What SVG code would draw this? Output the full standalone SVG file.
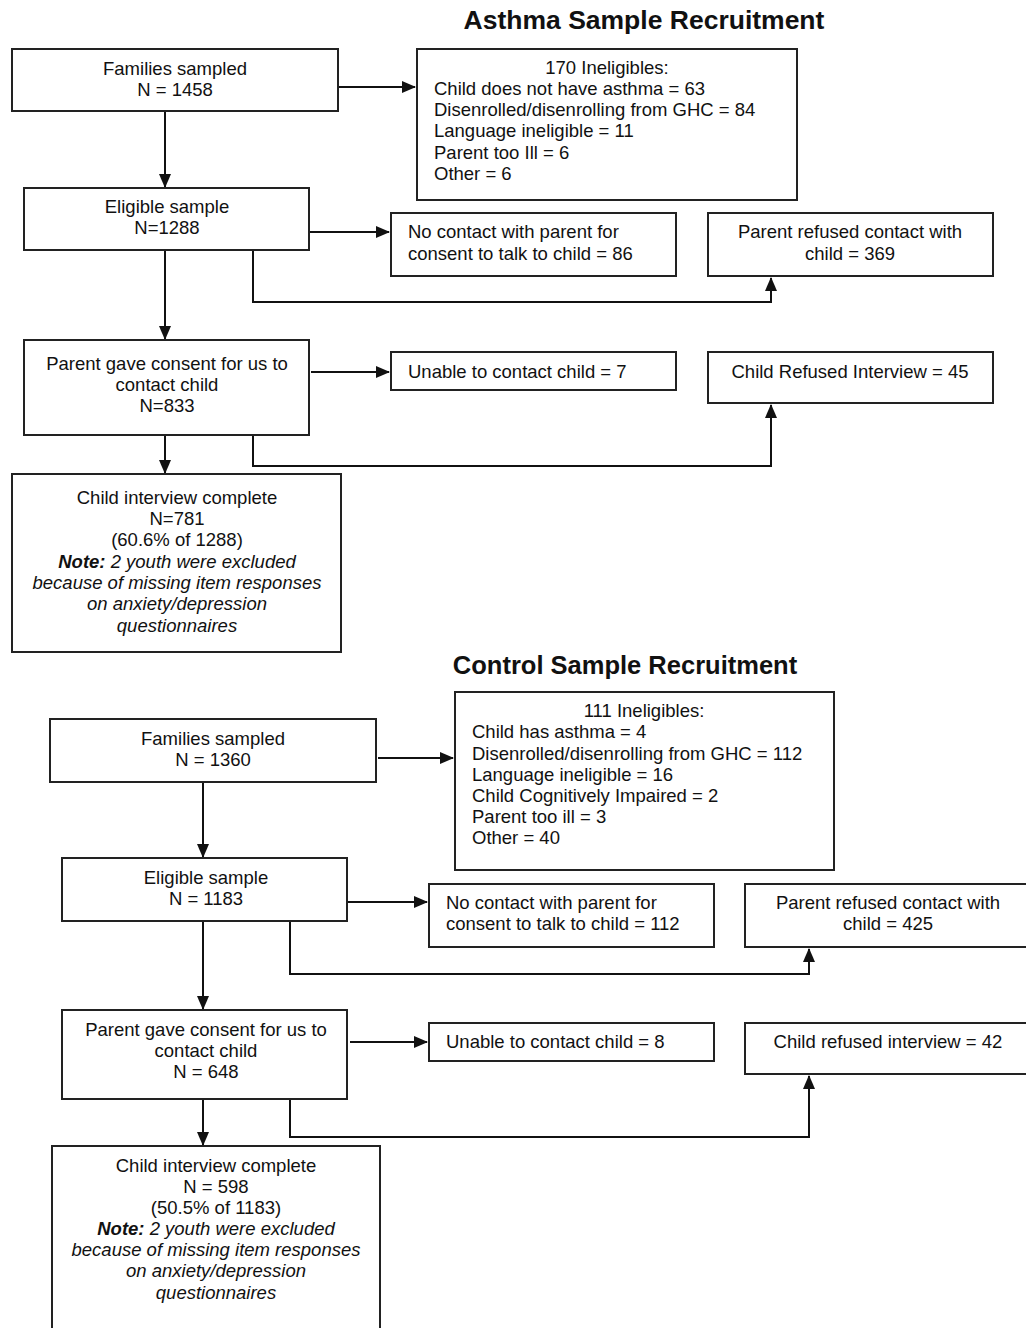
<svg xmlns="http://www.w3.org/2000/svg" width="1026" height="1328" viewBox="0 0 1026 1328">
<defs>
<marker id="ah" markerWidth="14" markerHeight="12" refX="13" refY="6" orient="auto" markerUnits="userSpaceOnUse">
<path d="M0,0 L14,6 L0,12 Z" fill="#111"/>
</marker>
<style>
rect{fill:#fff;stroke:#222;stroke-width:2}
text{font-family:"Liberation Sans",Arial,sans-serif;font-size:18.5px;fill:#111}
.c{text-anchor:middle}
.t{font-size:26.5px;font-weight:bold}
.t2{font-size:25.5px}
.i{font-style:italic}
.b{font-weight:bold}
#connectors path,#connectors line{stroke:#111;stroke-width:2;fill:none}
</style>
</defs>
<rect x="0" y="0" width="1026" height="1328" style="fill:#fff;stroke:none"/>
<text class="c t" x="644" y="29">Asthma Sample Recruitment</text>
<text class="c t t2" x="625" y="674">Control Sample Recruitment</text>

<g id="connectors">
<line x1="339" y1="87" x2="415" y2="87" marker-end="url(#ah)"/>
<line x1="165" y1="112" x2="165" y2="187" marker-end="url(#ah)"/>
<line x1="310" y1="232" x2="389" y2="232" marker-end="url(#ah)"/>
<path d="M253,251 V302 H771 V278" marker-end="url(#ah)"/>
<line x1="165" y1="251" x2="165" y2="339" marker-end="url(#ah)"/>
<line x1="311" y1="372" x2="389" y2="372" marker-end="url(#ah)"/>
<path d="M253,436 V466 H771 V405" marker-end="url(#ah)"/>
<line x1="165" y1="436" x2="165" y2="473" marker-end="url(#ah)"/>

<line x1="378" y1="758" x2="453" y2="758" marker-end="url(#ah)"/>
<line x1="203" y1="783" x2="203" y2="857" marker-end="url(#ah)"/>
<line x1="348" y1="902" x2="427" y2="902" marker-end="url(#ah)"/>
<path d="M290,922 V974 H809 V949" marker-end="url(#ah)"/>
<line x1="203" y1="922" x2="203" y2="1009" marker-end="url(#ah)"/>
<line x1="350" y1="1042" x2="427" y2="1042" marker-end="url(#ah)"/>
<path d="M290,1100 V1137 H809 V1076" marker-end="url(#ah)"/>
<line x1="203" y1="1100" x2="203" y2="1145" marker-end="url(#ah)"/>
</g>

<g id="a-families">
<rect x="12" y="49" width="326" height="62"/>
<text class="c" x="175" y="75">Families sampled</text>
<text class="c" x="175" y="96">N = 1458</text>
</g>
<g id="a-ineligibles">
<rect x="417" y="49" width="380" height="151"/>
<text class="c" x="607" y="74">170 Ineligibles:</text>
<text x="434" y="95">Child does not have asthma = 63</text>
<text x="434" y="116">Disenrolled/disenrolling from GHC = 84</text>
<text x="434" y="137">Language ineligible = 11</text>
<text x="434" y="159">Parent too Ill = 6</text>
<text x="434" y="180">Other = 6</text>
</g>
<g id="a-eligible">
<rect x="24" y="188" width="285" height="62"/>
<text class="c" x="167" y="213">Eligible sample</text>
<text class="c" x="167" y="234">N=1288</text>
</g>
<g id="a-nocontact">
<rect x="391" y="213" width="285" height="63"/>
<text x="408" y="238">No contact with parent for</text>
<text x="408" y="260">consent to talk to child = 86</text>
</g>
<g id="a-refused">
<rect x="708" y="213" width="285" height="63"/>
<text class="c" x="850" y="238">Parent refused contact with</text>
<text class="c" x="850" y="260">child = 369</text>
</g>
<g id="a-consent">
<rect x="24" y="340" width="285" height="95"/>
<text class="c" x="167" y="370">Parent gave consent for us to</text>
<text class="c" x="167" y="391">contact child</text>
<text class="c" x="167" y="412">N=833</text>
</g>
<g id="a-unable">
<rect x="391" y="352" width="285" height="38"/>
<text x="408" y="378">Unable to contact child = 7</text>
</g>
<g id="a-childrefused">
<rect x="708" y="352" width="285" height="51"/>
<text class="c" x="850" y="378">Child Refused Interview = 45</text>
</g>
<g id="a-complete">
<rect x="12" y="474" width="329" height="178"/>
<text class="c" x="177" y="504">Child interview complete</text>
<text class="c" x="177" y="525">N=781</text>
<text class="c" x="177" y="546">(60.6% of 1288)</text>
<text class="c i" x="177" y="568"><tspan class="b">Note:</tspan> 2 youth were excluded</text>
<text class="c i" x="177" y="589">because of missing item responses</text>
<text class="c i" x="177" y="610">on anxiety/depression</text>
<text class="c i" x="177" y="632">questionnaires</text>
</g>

<g id="c-families">
<rect x="50" y="719" width="326" height="63"/>
<text class="c" x="213" y="745">Families sampled</text>
<text class="c" x="213" y="766">N = 1360</text>
</g>
<g id="c-ineligibles">
<rect x="455" y="692" width="379" height="178"/>
<text class="c" x="644" y="717">111 Ineligibles:</text>
<text x="472" y="738">Child has asthma = 4</text>
<text x="472" y="760">Disenrolled/disenrolling from GHC = 112</text>
<text x="472" y="781">Language ineligible = 16</text>
<text x="472" y="802">Child Cognitively Impaired = 2</text>
<text x="472" y="823">Parent too ill = 3</text>
<text x="472" y="844">Other = 40</text>
</g>
<g id="c-eligible">
<rect x="62" y="858" width="285" height="63"/>
<text class="c" x="206" y="884">Eligible sample</text>
<text class="c" x="206" y="905">N = 1183</text>
</g>
<g id="c-nocontact">
<rect x="429" y="884" width="285" height="63"/>
<text x="446" y="909">No contact with parent for</text>
<text x="446" y="930">consent to talk to child = 112</text>
</g>
<g id="c-refused">
<rect x="745" y="884" width="290" height="63"/>
<text class="c" x="888" y="909">Parent refused contact with</text>
<text class="c" x="888" y="930">child = 425</text>
</g>
<g id="c-consent">
<rect x="62" y="1010" width="285" height="89"/>
<text class="c" x="206" y="1036">Parent gave consent for us to</text>
<text class="c" x="206" y="1057">contact child</text>
<text class="c" x="206" y="1078">N = 648</text>
</g>
<g id="c-unable">
<rect x="429" y="1023" width="285" height="38"/>
<text x="446" y="1048">Unable to contact child = 8</text>
</g>
<g id="c-childrefused">
<rect x="745" y="1023" width="290" height="51"/>
<text class="c" x="888" y="1048">Child refused interview = 42</text>
</g>
<g id="c-complete">
<rect x="52" y="1146" width="328" height="190"/>
<text class="c" x="216" y="1172">Child interview complete</text>
<text class="c" x="216" y="1193">N = 598</text>
<text class="c" x="216" y="1214">(50.5% of 1183)</text>
<text class="c i" x="216" y="1235"><tspan class="b">Note:</tspan> 2 youth were excluded</text>
<text class="c i" x="216" y="1256">because of missing item responses</text>
<text class="c i" x="216" y="1277">on anxiety/depression</text>
<text class="c i" x="216" y="1299">questionnaires</text>
</g>
</svg>
